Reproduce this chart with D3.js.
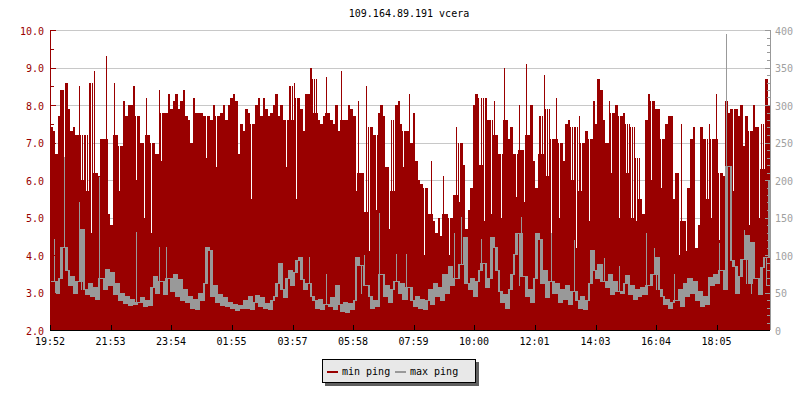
<!DOCTYPE html>
<html><head><meta charset="utf-8">
<script src="https://cdn.jsdelivr.net/npm/d3@7"></script>
<style>
body{margin:0;background:#fff}
svg{display:block}
text{font-family:"DejaVu Sans Mono","Liberation Mono",monospace;font-size:10px}
</style>
</head><body>
<svg id="chart" width="800" height="400"></svg>
<script>
const chartTitle = "109.164.89.191 vcera";
const stepMinutes = 5;
const seriesNames = ["min ping", "max ping"];
const timeLabels = ["19:52","21:53","23:54","01:55","03:57","05:58","07:59","10:00","12:01","14:03","16:04","18:05"];
const leftTicks = [2,3,4,5,6,7,8,9,10];
const rightTicks = [0,50,100,150,200,250,300,350,400];

// min ping (left axis, 5-minute samples)
const minPing = [
7.4,7.3,6.7,7.7,8.4,5.5,8.6,7.9,7.3,7.4,
7.2,8.5,6.0,7.2,5.7,8.6,4.6,8.9,6.2,6.1,
7.1,7.1,9.3,5.1,4.8,8.6,7.2,5.7,6.9,8.1,
7.7,8.0,8.0,8.5,6.0,7.7,7.0,5.0,8.2,7.2,
4.6,7.0,6.7,8.4,6.5,7.8,7.8,8.3,7.9,8.1,
8.3,7.9,8.1,8.4,7.7,7.6,7.0,8.2,7.8,7.8,
7.8,7.7,6.6,7.7,7.6,8.0,6.35,7.7,7.8,8.0,
7.6,8.0,8.2,8.3,8.1,6.7,7.5,7.3,7.9,7.8,
5.5,7.5,8.0,8.2,7.7,8.2,7.9,7.7,7.8,8.0,
8.3,7.7,8.0,7.6,6.35,8.5,7.6,8.6,5.5,8.2,
7.9,7.3,8.3,8.3,9.0,7.8,8.7,7.6,7.5,7.7,
8.75,7.8,7.6,7.5,8.0,7.3,8.9,7.6,7.6,8.0,
7.9,7.7,5.7,8.1,6.2,5.15,8.5,4.1,7.4,7.2,
5.2,7.8,8.0,7.7,6.35,4.7,7.6,5.7,8.0,8.1,
7.5,6.35,7.3,8.3,7.0,7.8,6.5,6.0,5.9,4.0,
5.8,5.1,6.5,4.9,4.6,5.0,4.5,6.1,5.1,4.0,
5.0,5.6,7.4,5.4,7.0,6.4,4.7,5.2,5.8,8.0,
8.3,6.4,8.2,4.9,8.2,7.6,5.1,8.1,7.2,6.7,
5.0,9.0,7.6,7.1,7.4,6.7,5.55,8.0,6.8,5.4,
9.1,7.2,8.0,6.5,5.8,7.7,6.7,8.8,6.1,7.9,
4.6,7.1,8.2,5.0,7.0,6.5,7.5,7.6,6.0,7.4,
4.2,7.7,5.7,7.0,7.3,4.9,7.1,8.1,7.5,8.7,
8.4,7.6,7.0,8.1,6.2,7.8,8.0,5.0,7.7,7.8,
6.2,7.5,5.0,7.4,4.9,6.6,5.5,5.1,7.6,8.3,
6.0,8.1,7.9,7.9,5.8,7.1,7.5,7.7,7.7,5.5,
6.2,4.0,7.5,4.9,4.1,5.8,7.1,7.4,4.2,4.8,
7.4,7.1,5.5,7.5,5.0,7.1,8.3,4.4,6.2,6.1,
8.1,7.8,7.9,5.7,7.9,7.7,8.0,6.9,7.7,4.8,
7.3,8.0,7.4,5.0,7.5,6.3,8.7,8.0
];

// max ping (right axis, 5-minute samples)
const maxPing = [
65,122,50,70,111,231,80,60,72,50,
65,171,55,135,48,62,45,58,42,204,
70,55,82,60,78,48,62,40,50,36,
45,33,42,35,131,38,44,32,40,34,
58,72,50,111,66,48,111,70,52,75,
45,68,40,55,38,45,30,42,28,50,
40,62,111,107,45,60,38,48,33,44,
32,38,30,35,27,33,29,40,30,45,
28,38,47,32,44,30,36,28,40,45,
62,89,55,44,70,80,60,78,93,98,
68,55,62,98,45,40,30,42,28,35,
75,32,44,28,60,35,26,38,24,36,
28,40,98,87,50,100,60,45,30,40,
32,156,75,45,60,38,55,66,102,50,
62,42,102,58,40,32,45,30,42,28,
40,55,35,62,45,58,40,75,50,85,
60,129,70,88,151,62,124,55,70,45,
65,80,122,90,58,70,124,111,80,52,
38,48,30,55,75,102,129,60,151,72,
45,55,38,70,129,122,62,80,44,66,
129,50,62,38,55,42,60,35,52,120,
40,30,46,28,40,62,107,80,70,88,
65,96,58,75,48,66,52,85,50,62,
73,48,60,42,55,45,58,48,129,60,
75,109,55,98,45,35,42,30,38,75,
40,55,32,62,45,70,50,65,40,52,
32,45,35,71,60,75,62,116,80,55,
395,218,93,85,50,72,95,133,62,127,
50,118,70,48,84,98,60,200
];

const RED = "#990000", GRAY = "#999999";
const svg = d3.select("#chart");
const L = 50, R = 770, T = 30, B = 330;

const toMin = s => { const [h,m] = s.split(":").map(Number); return h*60+m; };
const t0 = toMin(timeLabels[0]);
const tickMins = timeLabels.map(s => ((toMin(s) - t0) + 1440) % 1440);
const totalMin = minPing.length * stepMinutes;

const x = d3.scaleLinear().domain([0, totalMin]).range([L, R]);
const yL = d3.scaleLinear().domain([2, 10]).range([B, T]);
const yR = d3.scaleLinear().domain([0, 400]).range([B, T]);
const px = i => Math.round(x(i*stepMinutes));

// body value: isolated peaks/dips are drawn as 1px slivers on a body at the neighbours' level
function bodies(arr, thr) {
  return arr.map((c, i) => {
    const p = i ? arr[i-1] : c, n = i < arr.length-1 ? arr[i+1] : c;
    const m = d3.median([p, c, n]);
    return Math.abs(c - m) > thr ? m : c;
  });
}

// title
svg.append("text").attr("x", 409).attr("y", 17).attr("text-anchor", "middle")
  .attr("fill", "#000").text(chartTitle);

// grid
svg.append("g").selectAll("line").data(leftTicks.filter(v => v > 2)).join("line")
  .attr("x1", L).attr("x2", R).attr("y1", d => Math.round(yL(d))+0.5).attr("y2", d => Math.round(yL(d))+0.5)
  .attr("stroke", "#c8c8c8").attr("shape-rendering", "crispEdges");

// min ping bars
const minBody = bodies(minPing, 0.8);
const gMin = svg.append("g").attr("shape-rendering", "crispEdges");
gMin.selectAll("rect.b").data(minPing).join("rect").attr("class","b")
  .attr("x", (d,i) => px(i)).attr("width", (d,i) => px(i+1) - px(i))
  .attr("y", (d,i) => Math.round(yL(minBody[i]))).attr("height", (d,i) => B - Math.round(yL(minBody[i])))
  .attr("fill", RED);
gMin.selectAll("rect.s").data(minPing.map((d,i) => ({v: d, b: minBody[i], i})).filter(o => o.v !== o.b)).join("rect").attr("class","s")
  .attr("x", o => px(o.i) + 1).attr("width", 1)
  .attr("y", o => Math.round(yL(Math.max(o.v, o.b))))
  .attr("height", o => Math.abs(Math.round(yL(o.v)) - Math.round(yL(o.b))))
  .attr("fill", o => o.v > o.b ? RED : "#ffffff");

// max ping: stepped line, each sample spans from previous level to its own level
const maxBody = bodies(maxPing, 30);
const gMax = svg.append("g").attr("shape-rendering", "crispEdges");
gMax.selectAll("rect.b").data(maxPing).join("rect").attr("class","b")
  .attr("x", (d,i) => px(i)).attr("width", (d,i) => px(i+1) - px(i))
  .attr("y", (d,i) => Math.round(yR(Math.max(maxBody[i], i ? maxBody[i-1] : maxBody[i]))))
  .attr("height", (d,i) => Math.round(yR(Math.min(maxBody[i], i ? maxBody[i-1] : maxBody[i]))) - Math.round(yR(Math.max(maxBody[i], i ? maxBody[i-1] : maxBody[i]))) + 1)
  .attr("fill", GRAY);
gMax.selectAll("rect.s").data(maxPing.map((d,i) => ({v: d, b: maxBody[i], i})).filter(o => o.v !== o.b)).join("rect").attr("class","s")
  .attr("x", o => px(o.i) + 1).attr("width", 1)
  .attr("y", o => Math.round(yR(Math.max(o.v, o.b))))
  .attr("height", o => Math.abs(Math.round(yR(o.v)) - Math.round(yR(o.b))) + 1)
  .attr("fill", GRAY);

// left axis
const gl = svg.append("g").attr("shape-rendering", "crispEdges");
gl.append("line").attr("x1", L+0.5).attr("x2", L+0.5).attr("y1", T).attr("y2", B).attr("stroke", RED);
const halfTicks = d3.range(2, 10.01, 0.5);
gl.selectAll("line.t").data(halfTicks).join("line").attr("class","t")
  .attr("x1", L).attr("x2", d => Number.isInteger(d) ? L+6 : L+4)
  .attr("y1", d => Math.round(yL(d))+0.5).attr("y2", d => Math.round(yL(d))+0.5).attr("stroke", RED);
svg.append("g").selectAll("text").data(leftTicks).join("text")
  .attr("x", 44).attr("y", d => yL(d)+4.5).attr("text-anchor","end").attr("fill", RED)
  .text(d3.format(".1f"));

// right axis
const gr = svg.append("g").attr("shape-rendering", "crispEdges");
gr.append("line").attr("x1", R+0.5).attr("x2", R+0.5).attr("y1", T).attr("y2", B).attr("stroke", GRAY);
gr.selectAll("line.t").data(d3.range(0, 401, 10)).join("line").attr("class","t")
  .attr("x1", d => d % 50 === 0 ? R-5 : R-3).attr("x2", R)
  .attr("y1", d => Math.round(yR(d))+0.5).attr("y2", d => Math.round(yR(d))+0.5).attr("stroke", GRAY);
svg.append("g").selectAll("text").data(rightTicks).join("text")
  .attr("x", 775).attr("y", d => yR(d)+4.5).attr("fill", "#a0a0a0").text(d => d);

// x axis
const gx = svg.append("g").attr("shape-rendering", "crispEdges");
gx.append("line").attr("x1", L).attr("x2", R).attr("y1", B+0.5).attr("y2", B+0.5).attr("stroke", "#000");
gx.selectAll("line.t").data(tickMins).join("line").attr("class","t")
  .attr("x1", d => Math.round(x(d))+0.5).attr("x2", d => Math.round(x(d))+0.5)
  .attr("y1", B-5).attr("y2", B).attr("stroke", "#000");
svg.append("g").selectAll("text").data(timeLabels).join("text")
  .attr("x", (d,i) => x(tickMins[i])).attr("y", 345).attr("text-anchor","middle").attr("fill","#000")
  .text(d => d);

// legend
const lg = svg.append("g").attr("shape-rendering", "crispEdges");
lg.append("rect").attr("x", 325).attr("y", 362).attr("width", 154).attr("height", 24).attr("fill", "#5f5f5f");
lg.append("rect").attr("x", 322.5).attr("y", 359.5).attr("width", 153).attr("height", 23)
  .attr("fill", "#e8e8e8").attr("stroke", "#000");
const legendItems = [{name: seriesNames[0], color: RED, x: 327}, {name: seriesNames[1], color: GRAY, x: 395}];
legendItems.forEach(it => {
  lg.append("rect").attr("x", it.x).attr("y", 371).attr("width", 11).attr("height", 2).attr("fill", it.color);
  lg.append("text").attr("x", it.x + 15).attr("y", 375).attr("fill", "#000").text(it.name);
});
</script>
</body></html>
